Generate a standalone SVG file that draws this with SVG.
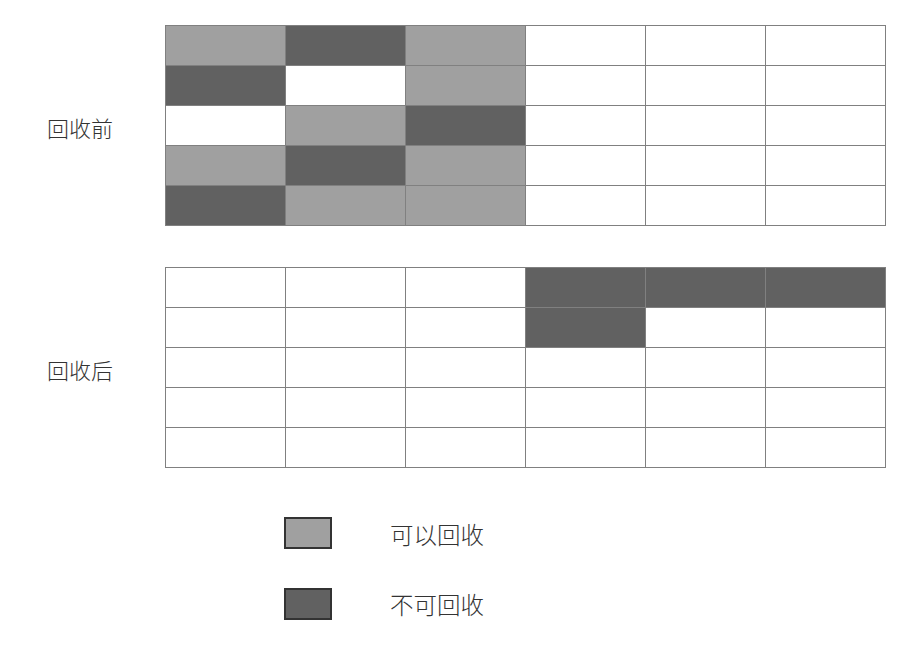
<svg xmlns="http://www.w3.org/2000/svg" width="910" height="654" viewBox="0 0 910 654">
<style>
.c{stroke:#808080;stroke-width:1}
.w{fill:#ffffff}
.l{fill:#a0a0a0}
.d{fill:#616161}
.lg{stroke:#333333;stroke-width:2}
.t{font-family:"Noto Sans CJK SC","Noto Sans",sans-serif;fill:#333333;font-weight:300}
</style>
<rect width="910" height="654" fill="#ffffff"/>
<g id="before">
<rect class="c l" x="165.5" y="25.5" width="120" height="40"/><rect class="c d" x="285.5" y="25.5" width="120" height="40"/><rect class="c l" x="405.5" y="25.5" width="120" height="40"/><rect class="c w" x="525.5" y="25.5" width="120" height="40"/><rect class="c w" x="645.5" y="25.5" width="120" height="40"/><rect class="c w" x="765.5" y="25.5" width="120" height="40"/>
<rect class="c d" x="165.5" y="65.5" width="120" height="40"/><rect class="c w" x="285.5" y="65.5" width="120" height="40"/><rect class="c l" x="405.5" y="65.5" width="120" height="40"/><rect class="c w" x="525.5" y="65.5" width="120" height="40"/><rect class="c w" x="645.5" y="65.5" width="120" height="40"/><rect class="c w" x="765.5" y="65.5" width="120" height="40"/>
<rect class="c w" x="165.5" y="105.5" width="120" height="40"/><rect class="c l" x="285.5" y="105.5" width="120" height="40"/><rect class="c d" x="405.5" y="105.5" width="120" height="40"/><rect class="c w" x="525.5" y="105.5" width="120" height="40"/><rect class="c w" x="645.5" y="105.5" width="120" height="40"/><rect class="c w" x="765.5" y="105.5" width="120" height="40"/>
<rect class="c l" x="165.5" y="145.5" width="120" height="40"/><rect class="c d" x="285.5" y="145.5" width="120" height="40"/><rect class="c l" x="405.5" y="145.5" width="120" height="40"/><rect class="c w" x="525.5" y="145.5" width="120" height="40"/><rect class="c w" x="645.5" y="145.5" width="120" height="40"/><rect class="c w" x="765.5" y="145.5" width="120" height="40"/>
<rect class="c d" x="165.5" y="185.5" width="120" height="40"/><rect class="c l" x="285.5" y="185.5" width="120" height="40"/><rect class="c l" x="405.5" y="185.5" width="120" height="40"/><rect class="c w" x="525.5" y="185.5" width="120" height="40"/><rect class="c w" x="645.5" y="185.5" width="120" height="40"/><rect class="c w" x="765.5" y="185.5" width="120" height="40"/>
</g>
<g id="after">
<rect class="c w" x="165.5" y="267.5" width="120" height="40"/><rect class="c w" x="285.5" y="267.5" width="120" height="40"/><rect class="c w" x="405.5" y="267.5" width="120" height="40"/><rect class="c d" x="525.5" y="267.5" width="120" height="40"/><rect class="c d" x="645.5" y="267.5" width="120" height="40"/><rect class="c d" x="765.5" y="267.5" width="120" height="40"/>
<rect class="c w" x="165.5" y="307.5" width="120" height="40"/><rect class="c w" x="285.5" y="307.5" width="120" height="40"/><rect class="c w" x="405.5" y="307.5" width="120" height="40"/><rect class="c d" x="525.5" y="307.5" width="120" height="40"/><rect class="c w" x="645.5" y="307.5" width="120" height="40"/><rect class="c w" x="765.5" y="307.5" width="120" height="40"/>
<rect class="c w" x="165.5" y="347.5" width="120" height="40"/><rect class="c w" x="285.5" y="347.5" width="120" height="40"/><rect class="c w" x="405.5" y="347.5" width="120" height="40"/><rect class="c w" x="525.5" y="347.5" width="120" height="40"/><rect class="c w" x="645.5" y="347.5" width="120" height="40"/><rect class="c w" x="765.5" y="347.5" width="120" height="40"/>
<rect class="c w" x="165.5" y="387.5" width="120" height="40"/><rect class="c w" x="285.5" y="387.5" width="120" height="40"/><rect class="c w" x="405.5" y="387.5" width="120" height="40"/><rect class="c w" x="525.5" y="387.5" width="120" height="40"/><rect class="c w" x="645.5" y="387.5" width="120" height="40"/><rect class="c w" x="765.5" y="387.5" width="120" height="40"/>
<rect class="c w" x="165.5" y="427.5" width="120" height="40"/><rect class="c w" x="285.5" y="427.5" width="120" height="40"/><rect class="c w" x="405.5" y="427.5" width="120" height="40"/><rect class="c w" x="525.5" y="427.5" width="120" height="40"/><rect class="c w" x="645.5" y="427.5" width="120" height="40"/><rect class="c w" x="765.5" y="427.5" width="120" height="40"/>
</g>
<g id="labels">
<text class="t" x="47" y="137" font-size="22">回收前</text>
<text class="t" x="47" y="379" font-size="22">回收后</text>
</g>
<g id="legend">
<rect class="lg l" x="285" y="518" width="46" height="30"/>
<text class="t" x="390" y="544" font-size="23.5">可以回收</text>
<rect class="lg d" x="285" y="589" width="46" height="30"/>
<text class="t" x="390" y="614" font-size="23.5">不可回收</text>
</g>
<g id="connectors"/>
</svg>
